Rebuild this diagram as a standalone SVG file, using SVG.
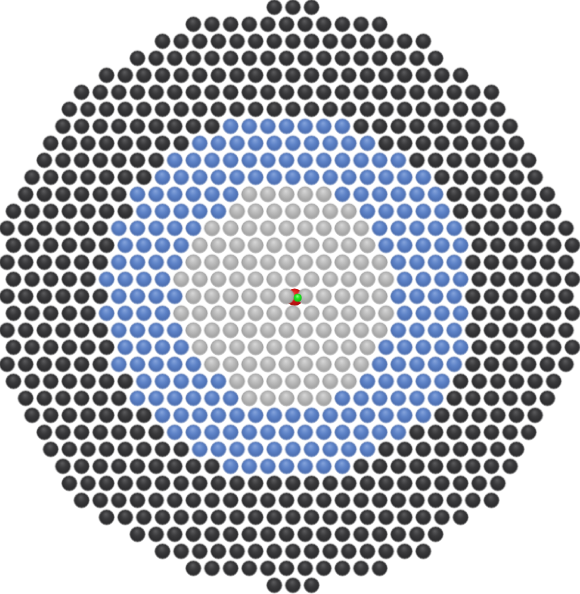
<svg xmlns="http://www.w3.org/2000/svg" width="580" height="594" viewBox="0 0 580 594">
<defs>
  <radialGradient id="gd" cx="0.5" cy="0.45" r="0.55" fx="0.45" fy="0.28">
    <stop offset="0" stop-color="#5c5c5e"/>
    <stop offset="0.45" stop-color="#3a3a3c"/>
    <stop offset="0.85" stop-color="#2c2c2e"/>
    <stop offset="1" stop-color="#38383a"/>
  </radialGradient>
  <radialGradient id="gb" cx="0.5" cy="0.45" r="0.55" fx="0.45" fy="0.28">
    <stop offset="0" stop-color="#86a4dc"/>
    <stop offset="0.45" stop-color="#5f84c8"/>
    <stop offset="0.85" stop-color="#4e71b4"/>
    <stop offset="1" stop-color="#5a7cbc"/>
  </radialGradient>
  <radialGradient id="gg" cx="0.5" cy="0.45" r="0.55" fx="0.45" fy="0.28">
    <stop offset="0" stop-color="#d8d8d8"/>
    <stop offset="0.45" stop-color="#bcbcbc"/>
    <stop offset="0.85" stop-color="#a6a6a6"/>
    <stop offset="1" stop-color="#afafaf"/>
  </radialGradient>
  <radialGradient id="gr" cx="0.5" cy="0.45" r="0.55" fx="0.45" fy="0.28">
    <stop offset="0" stop-color="#f04040"/>
    <stop offset="0.5" stop-color="#d81818"/>
    <stop offset="1" stop-color="#a80c0c"/>
  </radialGradient>
  <radialGradient id="gn" cx="0.5" cy="0.45" r="0.55" fx="0.45" fy="0.3">
    <stop offset="0" stop-color="#8cff8c"/>
    <stop offset="0.5" stop-color="#22e622"/>
    <stop offset="1" stop-color="#16c016"/>
  </radialGradient>
  <circle id="sd" r="7.6" fill="url(#gd)" stroke="#777" stroke-width="0.6"/>
  <circle id="sb" r="7.6" fill="url(#gb)" stroke="#7f95c0" stroke-width="0.6"/>
  <circle id="sg" r="7.6" fill="url(#gg)" stroke="#999" stroke-width="0.6"/>
  <pattern id="pd" patternUnits="userSpaceOnUse" width="18.63" height="17"><use href="#sd" x="9.315" y="8.5"/></pattern>
  <pattern id="pb" patternUnits="userSpaceOnUse" width="18.63" height="17"><use href="#sb" x="9.315" y="8.5"/></pattern>
  <pattern id="pg" patternUnits="userSpaceOnUse" width="18.63" height="17"><use href="#sg" x="9.315" y="8.5"/></pattern>

  <g id="r0"><rect x="260.82" width="55.89" height="17" fill="url(#pd)"/></g>
  <g id="r1"><rect x="186.3" width="204.93" height="17" fill="url(#pd)"/></g>
  <g id="r2"><rect x="149.04" width="279.45" height="17" fill="url(#pd)"/></g>
  <g id="r3"><rect x="130.41" width="316.71" height="17" fill="url(#pd)"/></g>
  <g id="r4"><rect x="93.15" width="372.6" height="17" fill="url(#pd)"/></g>
  <g id="r5"><rect x="74.52" width="428.49" height="17" fill="url(#pd)"/></g>
  <g id="r6"><rect x="55.89" width="447.12" height="17" fill="url(#pd)"/></g>
  <g id="r7">
    <rect x="55.89" width="167.67" height="17" fill="url(#pd)"/>
    <rect x="223.56" width="130.41" height="17" fill="url(#pb)"/>
    <rect x="353.97" width="167.67" height="17" fill="url(#pd)"/>
  </g>
  <g id="r8">
    <rect x="37.26" width="149.04" height="17" fill="url(#pd)"/>
    <rect x="186.3" width="186.3" height="17" fill="url(#pb)"/>
    <rect x="372.6" width="149.04" height="17" fill="url(#pd)"/>
  </g>
  <g id="r9">
    <rect x="37.26" width="130.41" height="17" fill="url(#pd)"/>
    <rect x="167.67" width="242.19" height="17" fill="url(#pb)"/>
    <rect x="409.86" width="130.41" height="17" fill="url(#pd)"/>
  </g>
  <g id="r10">
    <rect x="18.63" width="130.41" height="17" fill="url(#pd)"/>
    <rect x="149.04" width="279.45" height="17" fill="url(#pb)"/>
    <rect x="428.49" width="111.78" height="17" fill="url(#pd)"/>
  </g>
  <g id="r11">
    <rect x="18.63" width="111.78" height="17" fill="url(#pd)"/>
    <rect x="130.41" width="111.78" height="17" fill="url(#pb)"/>
    <rect x="242.19" width="93.15" height="17" fill="url(#pg)"/>
    <rect x="335.34" width="111.78" height="17" fill="url(#pb)"/>
    <rect x="447.12" width="111.78" height="17" fill="url(#pd)"/>
  </g>
  <g id="r12">
    <rect x="0" width="130.41" height="17" fill="url(#pd)"/>
    <rect x="130.41" width="93.15" height="17" fill="url(#pb)"/>
    <rect x="223.56" width="130.41" height="17" fill="url(#pg)"/>
    <rect x="353.97" width="93.15" height="17" fill="url(#pb)"/>
    <rect x="447.12" width="111.78" height="17" fill="url(#pd)"/>
  </g>
  <g id="r13">
    <rect x="0" width="111.78" height="17" fill="url(#pd)"/>
    <rect x="111.78" width="93.15" height="17" fill="url(#pb)"/>
    <rect x="204.93" width="167.67" height="17" fill="url(#pg)"/>
    <rect x="372.6" width="93.15" height="17" fill="url(#pb)"/>
    <rect x="465.75" width="111.78" height="17" fill="url(#pd)"/>
  </g>
  <g id="r14">
    <rect x="0" width="111.78" height="17" fill="url(#pd)"/>
    <rect x="111.78" width="74.52" height="17" fill="url(#pb)"/>
    <rect x="186.3" width="186.3" height="17" fill="url(#pg)"/>
    <rect x="372.6" width="93.15" height="17" fill="url(#pb)"/>
    <rect x="465.75" width="111.78" height="17" fill="url(#pd)"/>
  </g>
  <g id="r15">
    <rect x="0" width="111.78" height="17" fill="url(#pd)"/>
    <rect x="111.78" width="74.52" height="17" fill="url(#pb)"/>
    <rect x="186.3" width="204.93" height="17" fill="url(#pg)"/>
    <rect x="391.23" width="74.52" height="17" fill="url(#pb)"/>
    <rect x="465.75" width="111.78" height="17" fill="url(#pd)"/>
  </g>
  <g id="r16">
    <rect x="0" width="93.15" height="17" fill="url(#pd)"/>
    <rect x="93.15" width="74.52" height="17" fill="url(#pb)"/>
    <rect x="167.67" width="223.56" height="17" fill="url(#pg)"/>
    <rect x="391.23" width="74.52" height="17" fill="url(#pb)"/>
    <rect x="465.75" width="111.78" height="17" fill="url(#pd)"/>
  </g>
</defs>

<g id="defect-back">
  <circle cx="294.6" cy="297.1" r="8.6" fill="url(#gr)"/>
</g>

<g id="lattice">
  <use href="#r0" transform="translate(4.165,-1.2)"/>
  <use href="#r1" transform="translate(-2.235,15.8)"/>
  <use href="#r2" transform="translate(4.165,32.8)"/>
  <use href="#r3" transform="translate(-2.235,49.8)"/>
  <use href="#r4" transform="translate(4.165,66.8)"/>
  <use href="#r5" transform="translate(-2.235,83.8)"/>
  <use href="#r6" transform="translate(4.165,100.8)"/>
  <use href="#r7" transform="translate(-2.235,117.8)"/>
  <use href="#r8" transform="translate(4.165,134.8)"/>
  <use href="#r9" transform="translate(-2.235,151.8)"/>
  <use href="#r10" transform="translate(4.165,168.8)"/>
  <use href="#r11" transform="translate(-2.235,185.8)"/>
  <use href="#r12" transform="translate(4.165,202.8)"/>
  <use href="#r13" transform="translate(-2.235,219.8)"/>
  <use href="#r14" transform="translate(4.165,236.8)"/>
  <use href="#r15" transform="translate(-2.235,253.8)"/>
  <use href="#r16" transform="translate(4.165,270.8)"/>
  <use href="#r15" transform="translate(-2.235,287.8)"/>
  <use href="#r16" transform="translate(4.165,304.8)"/>
  <use href="#r15" transform="translate(-2.235,321.8)"/>
  <use href="#r14" transform="translate(4.165,338.8)"/>
  <use href="#r13" transform="translate(-2.235,355.8)"/>
  <use href="#r12" transform="translate(4.165,372.8)"/>
  <use href="#r11" transform="translate(-2.235,389.8)"/>
  <use href="#r10" transform="translate(4.165,406.8)"/>
  <use href="#r9" transform="translate(-2.235,423.8)"/>
  <use href="#r8" transform="translate(4.165,440.8)"/>
  <use href="#r7" transform="translate(-2.235,457.8)"/>
  <use href="#r6" transform="translate(4.165,474.8)"/>
  <use href="#r5" transform="translate(-2.235,491.8)"/>
  <use href="#r4" transform="translate(4.165,508.8)"/>
  <use href="#r3" transform="translate(-2.235,525.8)"/>
  <use href="#r2" transform="translate(4.165,542.8)"/>
  <use href="#r1" transform="translate(-2.235,559.8)"/>
  <use href="#r0" transform="translate(4.165,576.8)"/>
</g>

<g id="defect-front">
  <circle cx="297.7" cy="297.7" r="4" fill="url(#gn)"/>
</g>
</svg>
